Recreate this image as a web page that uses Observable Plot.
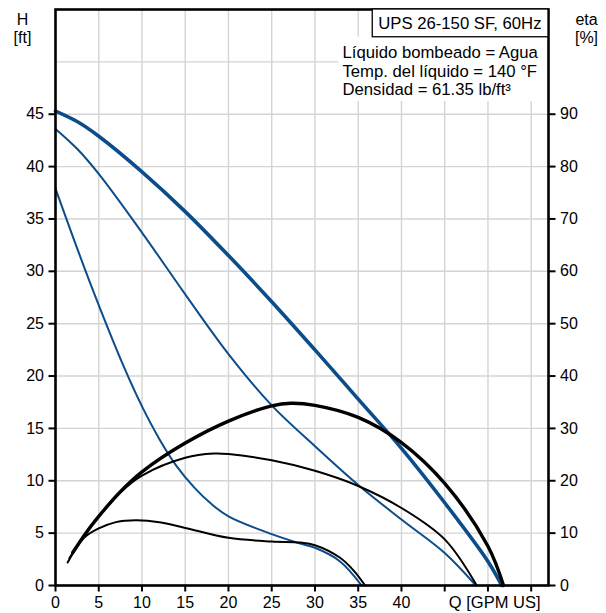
<!DOCTYPE html>
<html>
<head>
<meta charset="utf-8">
<script src="https://cdn.jsdelivr.net/npm/d3@7"></script>
<script src="https://cdn.jsdelivr.net/npm/@observablehq/plot@0.6"></script>
<style>
  html, body { margin: 0; padding: 0; background: #fff; }
</style>
</head>
<body>
<div id="chart"></div>
<script>
// ---- Data ----
// Head curves H [ft] vs Q [GPM US]
const headMaxQ = [0, 2.5, 5, 10, 15, 20, 25, 30, 35, 40, 45, 50, 51.6];
const headMaxH = [45.3, 44.3, 42.9, 39.5, 35.7, 31.5, 27.1, 22.5, 17.8, 13.1, 7.9, 2.3, 0];

const headMidQ = [0, 2.5, 5, 10, 15, 20, 25, 30, 35, 40, 45, 48.6];
const headMidH = [43.6, 41.7, 39.3, 33.7, 27.8, 22.1, 17.2, 13.3, 9.6, 6.3, 3.1, 0];

const headMinQ = [0, 4, 8, 10, 12, 14, 16, 18, 20, 25, 28.3, 30, 32.9, 35.4];
const headMinH = [37.9, 28.9, 20.7, 17.1, 14.0, 11.4, 9.4, 7.8, 6.6, 4.9, 4.0, 3.6, 2.3, 0];

// Efficiency curves eta [%] vs Q [GPM US]
const etaMaxQ = [2.0, 3.5, 5, 7.5, 10, 15, 20, 25, 27.2, 30, 35, 40, 45, 50, 51.8];
const etaMaxE = [6.3, 10.0, 13.2, 17.9, 21.7, 27.2, 31.4, 34.3, 34.8, 34.4, 32.1, 27.3, 19.5, 7.5, 0];

const etaMidQ = [1.6, 3.5, 5, 7.5, 10, 15, 18.3, 20, 25, 30, 35, 40, 45, 48.7];
const etaMidE = [5.2, 10.0, 13.2, 17.8, 21.0, 24.4, 25.2, 25.1, 23.9, 21.9, 19.0, 14.8, 8.8, 0];

const etaMinQ = [1.4, 3.3, 5, 7, 9.3, 12, 15, 20, 25, 28.3, 30, 32.9, 34.5, 35.8];
const etaMinE = [4.4, 9.1, 10.9, 12.1, 12.45, 12.1, 11.0, 9.1, 8.4, 8.2, 7.7, 5.3, 2.8, 0];

// Axes / ticks
const xTicks = [0, 5, 10, 15, 20, 25, 30, 35, 40, 45, 50, 55];
const xTickMaxLabel = 40;
const hTicks = [0, 5, 10, 15, 20, 25, 30, 35, 40, 45];
const hGrid = [0, 5, 10, 15, 20, 25, 30, 35, 40, 45, 50];
const etaTicks = [0, 10, 20, 30, 40, 50, 60, 70, 80, 90];
const xDomain = [0, 57];
const hDomain = [0, 55];
const etaPerFt = 2; // right axis: eta 0..110 maps to H 0..55

// Texts
const titleText = "UPS 26-150 SF, 60Hz";
const infoText = "Líquido bombeado = Agua\nTemp. del líquido = 140 °F\nDensidad = 61.35 lb/ft³";
const leftAxisTitle = "H\n[ft]";
const rightAxisTitle = "eta\n[%]";
const xAxisTitle = "Q [GPM US]";

// ---- Build tables ----
const rows = (q, v, k = 1) => q.map((x, i) => ({ q: x, v: v[i] / k }));
const headMax = rows(headMaxQ, headMaxH);
const headMid = rows(headMidQ, headMidH);
const headMin = rows(headMinQ, headMinH);
const etaMax = rows(etaMaxQ, etaMaxE, etaPerFt);
const etaMid = rows(etaMidQ, etaMidE, etaPerFt);
const etaMin = rows(etaMinQ, etaMinE, etaPerFt);

const W = 606, H = 613;
const mL = 55, mR = 58, mT = 9, mB = 28;
const blue = "#0b4d8a";
const grid = "#d4d4d4";
const font = "'Liberation Sans', Arial, Helvetica, sans-serif";
const fs = 16;
const fsNote = 16.7;

const lineOpts = (stroke, sw) => ({ x: "q", y: "v", stroke, strokeWidth: sw, curve: "catmull-rom", strokeLinejoin: "round", strokeLinecap: "round" });

const chart = Plot.plot({
  width: W,
  height: H,
  marginLeft: mL,
  marginRight: mR,
  marginTop: mT,
  marginBottom: mB,
  style: { fontFamily: font, fontSize: fs + "px", color: "black", background: "white" },
  x: { domain: xDomain },
  y: { domain: hDomain },
  marks: [
    Plot.gridX(xTicks, { stroke: grid, strokeOpacity: 1, strokeWidth: 1.4 }),
    Plot.gridY(hGrid, { stroke: grid, strokeOpacity: 1, strokeWidth: 1.4 }),
    Plot.line(headMin, lineOpts(blue, 2)),
    Plot.line(headMid, lineOpts(blue, 2)),
    Plot.line(headMax, lineOpts(blue, 3.6)),
    Plot.line(etaMin, lineOpts("black", 2)),
    Plot.line(etaMid, lineOpts("black", 2)),
    Plot.line(etaMax, lineOpts("black", 3.4)),
    Plot.frame({ stroke: "black", strokeWidth: 2.6 }),
    Plot.axisX(xTicks, { tickSize: 6.5, tickPadding: 5, strokeWidth: 2, fontSize: fs, label: null,
      tickFormat: d => (d <= xTickMaxLabel ? String(d) : "") }),
    Plot.axisY(hTicks, { anchor: "left", tickSize: 6.5, tickPadding: 5, strokeWidth: 2, fontSize: fs, label: null }),
    Plot.axisY(etaTicks.map(e => e / etaPerFt), { anchor: "right", tickSize: 6.5, tickPadding: 5, strokeWidth: 2, fontSize: fs, label: null,
      tickFormat: d => String(d * etaPerFt) }),
    Plot.text([leftAxisTitle], { text: d => d, frameAnchor: "top-left", dx: -33, dy: 2.3, textAnchor: "middle", lineAnchor: "top", lineHeight: 1.125, fontSize: fs }),
    Plot.text([rightAxisTitle], { text: d => d, frameAnchor: "top-right", dx: 38, dy: 2.3, textAnchor: "middle", lineAnchor: "top", lineHeight: 1.125, fontSize: fs }),
    Plot.text([xAxisTitle], { text: d => d, frameAnchor: "bottom-right", dx: -8, dy: 11, textAnchor: "end", lineAnchor: "top", fontSize: 16.5 }),
    Plot.text([titleText], { text: d => d, frameAnchor: "top-right", dx: -7, dy: 7.4, textAnchor: "end", lineAnchor: "top", fontSize: fsNote }),
    Plot.text([infoText], { text: d => d, frameAnchor: "top-left", dx: 287, dy: 35.8, textAnchor: "start", lineAnchor: "top", lineHeight: 1.096, fontSize: fsNote })
  ]
});

document.getElementById("chart").appendChild(chart);

// ---- Annotation boxes sized from the rendered texts ----
const frameEl = chart.querySelector("[aria-label=frame]");
const plotRight = W - mR, plotTop = mT;
function findText(prefix) {
  return Array.from(chart.querySelectorAll("text")).find(t => t.textContent.startsWith(prefix));
}
function box(el) {
  const s = chart.getBoundingClientRect();
  const r = el.getBoundingClientRect();
  return { x: r.left - s.left, y: r.top - s.top, width: r.width, height: r.height };
}
const NS = "http://www.w3.org/2000/svg";
function makeRect(attrs) {
  const r = document.createElementNS(NS, "rect");
  for (const k in attrs) r.setAttribute(k, attrs[k]);
  return r;
}
const tEl = findText("UPS");
const iEl = findText("Líquido");
const tb = box(tEl);
const ib = box(iEl);
const boxLeft = tb.x - 6;
const boxBottom = tb.y + tb.height + 4;
// white background behind the fluid info (hides gridlines)
const infoLeft = ib.x - 4;
frameEl.parentNode.insertBefore(makeRect({
  x: infoLeft, y: boxBottom, width: plotRight - infoLeft,
  height: ib.y + ib.height + 2 - boxBottom, fill: "white"
}), frameEl);
// outlined title box
const titleG = tEl.parentNode;
titleG.parentNode.insertBefore(makeRect({
  x: boxLeft, y: plotTop, width: plotRight - boxLeft, height: boxBottom - plotTop,
  fill: "white", stroke: "black", "stroke-width": 1.3
}), titleG);
</script>
</body>
</html>
